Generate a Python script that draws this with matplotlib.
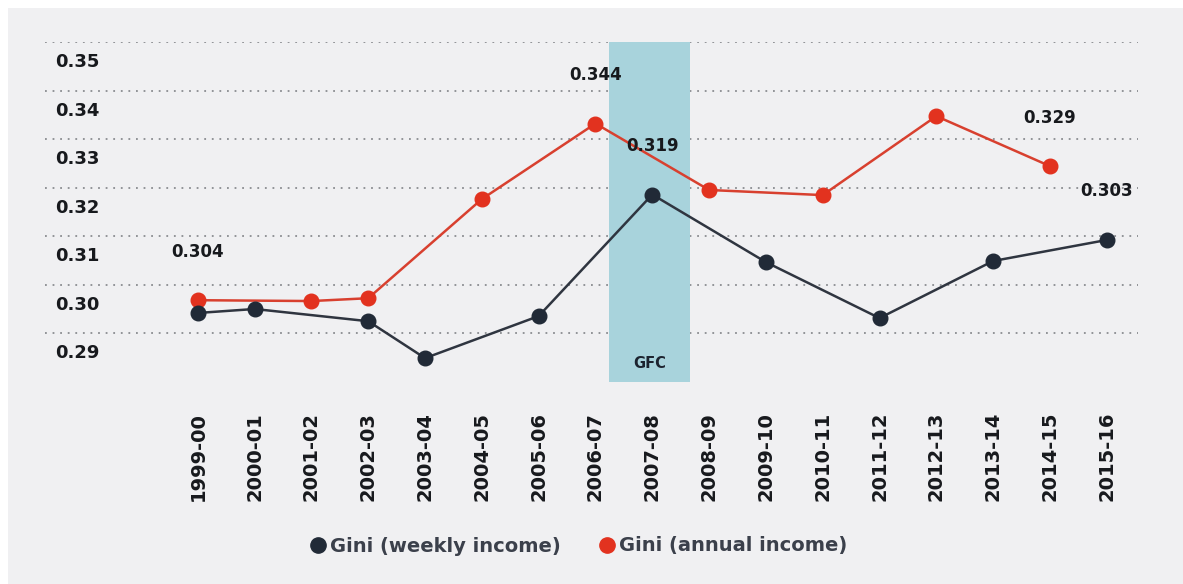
import numpy as np
import matplotlib
matplotlib.use("Agg")
import matplotlib.pyplot as plt
from matplotlib.lines import Line2D
from matplotlib.patches import Rectangle
from matplotlib.transforms import ScaledTranslation, blended_transform_factory

plt.rcParams["font.family"] = ["DejaVu Sans"]

# financial years on the x axis
years = ["1999-00", "2000-01", "2001-02", "2002-03", "2003-04", "2004-05",
         "2005-06", "2006-07", "2007-08", "2008-09", "2009-10", "2010-11",
         "2011-12", "2012-13", "2013-14", "2014-15", "2015-16"]

# Gini coefficient, weekly income (survey years only)
weekly_years = ["1999-00", "2000-01", "2002-03", "2003-04", "2005-06",
                "2007-08", "2009-10", "2011-12", "2013-14", "2015-16"]
weekly_gini = [0.2773, 0.2787, 0.2744, 0.2614, 0.2762,
               0.319, 0.2952, 0.2755, 0.2956, 0.303]

# Gini coefficient, annual income
annual_years = ["1999-00", "2001-02", "2002-03", "2004-05", "2006-07",
                "2008-09", "2010-11", "2012-13", "2014-15"]
annual_gini = [0.2818, 0.2815, 0.2825, 0.3174, 0.344,
               0.3206, 0.3188, 0.3466, 0.329]

# value callouts: (series, year, text)
callouts = [("annual", "1999-00", "0.304"),
            ("annual", "2006-07", "0.344"),
            ("weekly", "2007-08", "0.319"),
            ("annual", "2014-15", "0.329"),
            ("weekly", "2015-16", "0.303")]

ytick_labels = ["0.35", "0.34", "0.33", "0.32", "0.31", "0.30", "0.29"]

gfc_years = ("2007-08", "2007-08")

DARK = "#212a37"
RED = "#e2321f"
RED_LINE = "#d8402f"
TEAL = "#a8d3dc"
BG = "#f0f0f2"
TEXT = "#17191d"

fig = plt.figure(figsize=(11.83, 5.84), dpi=100)
fig.patch.set_facecolor("white")
fig.patches.append(Rectangle((8 / 1183, 0), 1, 1 - 8 / 584,
                             transform=fig.transFigure, facecolor=BG,
                             edgecolor="none", zorder=-10))

ax = fig.add_axes([45 / 1183, 1 - 382 / 584, (1138 - 45) / 1183, 340 / 584])
ax.set_facecolor("none")
for s in ax.spines.values():
    s.set_visible(False)

xpos = {y: i for i, y in enumerate(years)}
wx = [xpos[y] for y in weekly_years]
ax_ = [xpos[y] for y in annual_years]

y_top, y_step = 0.3727, 0.01708
ax.set_ylim(0.2530, y_top)
ax.set_xlim(-2.69, 16.55)

# dotted grid
grid_vals = y_top - y_step * np.arange(len(ytick_labels))
for g in grid_vals:
    ax.axhline(g, color="#8a8c90", lw=1.3, ls=(0, (1, 3.2)), zorder=0)

# grid labels sit just under each dotted line
trans = blended_transform_factory(ax.transAxes, ax.transData) + \
    ScaledTranslation(10 / 100, -20 / 100, fig.dpi_scale_trans)
for g, lbl in zip(grid_vals, ytick_labels):
    ax.text(0, g, lbl, transform=trans, ha="left", va="center",
            fontsize=13, fontweight="bold", color=TEXT)
ax.set_yticks([])

# GFC band
ax.axvspan(xpos[gfc_years[0]] - 0.76, xpos[gfc_years[1]] + 0.66,
           color=TEAL, lw=0, zorder=1)
ax.text(xpos[gfc_years[0]] - 0.05, 0.2595, "GFC", ha="center", va="center",
        fontsize=10.5, fontweight="bold", color="#1d2430", zorder=2)

ax.plot(ax_, annual_gini, color=RED_LINE, lw=1.8, zorder=3)
ax.plot(ax_, annual_gini, "o", color=RED, ms=10.5, mec=RED, zorder=4)
ax.plot(wx, weekly_gini, color="#2f3540", lw=1.8, zorder=3)
ax.plot(wx, weekly_gini, "o", color=DARK, ms=10.5, zorder=4)

series = {"weekly": (weekly_years, weekly_gini),
          "annual": (annual_years, annual_gini)}
for name, yr, txt in callouts:
    yrs, vals = series[name]
    v = vals[yrs.index(yr)]
    ax.annotate(txt, (xpos[yr], v), xytext=(0, 35), textcoords="offset points",
                ha="center", va="center", fontsize=12, fontweight="bold",
                color=TEXT, zorder=5)

# x labels read upward, starting from a common baseline
ax.set_xticks(range(len(years)))
ax.set_xticklabels(years, rotation=90, va="bottom", ha="center",
                   fontsize=14, fontweight="bold", color=TEXT)
ax.tick_params(axis="x", length=0, pad=86)

handles = [Line2D([], [], marker="o", ls="none", color=DARK, ms=11,
                  label="Gini (weekly income)"),
           Line2D([], [], marker="o", ls="none", color=RED, ms=11,
                  label="Gini (annual income)")]
leg = fig.legend(handles=handles, loc="center", ncol=2, frameon=False,
                 bbox_to_anchor=(578 / 1183, 1 - 546 / 584),
                 handletextpad=0.1, columnspacing=1.9, handlelength=1.0,
                 prop={"size": 14, "weight": "bold"})
for t in leg.get_texts():
    t.set_color("#3b404b")

fig.savefig("out.png", dpi=100)
